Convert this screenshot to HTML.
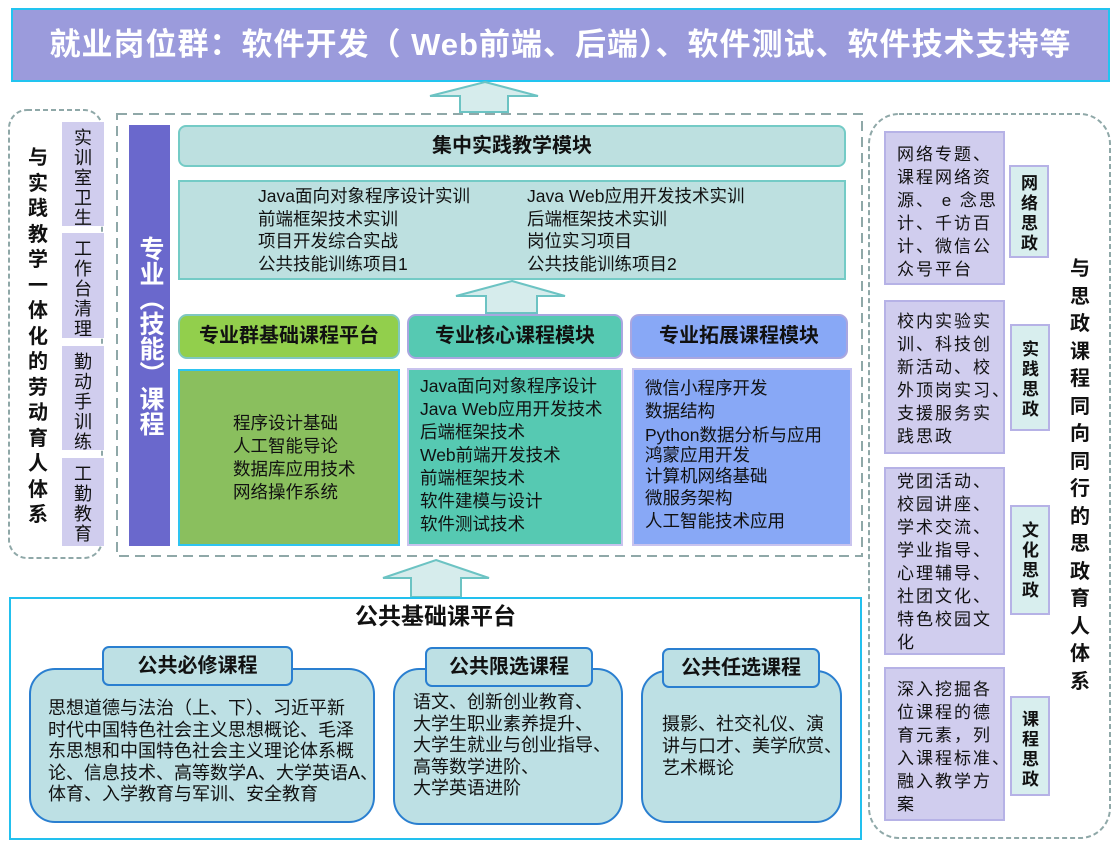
<!DOCTYPE html>
<html><head><meta charset="utf-8"><style>
*{margin:0;padding:0;box-sizing:border-box}
body{width:1119px;height:850px;background:#fff;position:relative;overflow:hidden;font-family:"Liberation Sans","Noto Sans CJK SC",sans-serif;color:#111}
.a{position:absolute}
.v{text-align:center;word-break:break-all;}
.b{font-weight:bold}
.t16{font-size:17.5px;line-height:22.5px;white-space:nowrap}
</style></head><body>
<!-- title -->
<div class="a b" style="left:11px;top:8px;width:1099px;height:74px;background:#9b9bdc;border:2px solid #22c4f0;color:#fff;font-size:31px;line-height:70px;text-align:center;letter-spacing:1px">就业岗位群：软件开发（ Web前端、后端）、软件测试、软件技术支持等</div>

<svg class="a" style="left:0;top:0" width="1119" height="850">
<polygon points="485,82 538,96 508,96 508,112 460,112 460,96 430,96" fill="#d6ecec" stroke="#6cc3c3" stroke-width="2"/>
<polygon points="512,281 565,296 537,296 537,313 486,313 486,296 456,296" fill="#d6ecec" stroke="#6cc3c3" stroke-width="2"/>
<polygon points="436,560 489,578 461,578 461,597 411,597 411,578 383,578" fill="#d6ecec" stroke="#6cc3c3" stroke-width="2"/>
<rect x="9" y="110" width="93" height="448" rx="18" fill="none" stroke="#8fa8a8" stroke-width="2" stroke-dasharray="5,3"/>
<rect x="117" y="114" width="745" height="442" fill="none" stroke="#8fa8a8" stroke-width="2" stroke-dasharray="10,6"/>
<rect x="869" y="114" width="241" height="724" rx="30" fill="none" stroke="#8fa8a8" stroke-width="2" stroke-dasharray="5,3"/>
</svg>

<!-- left -->
<div class="a b v" style="left:27px;top:146px;width:22px;font-size:20px;line-height:25.5px">与实践教学一体化的劳动育人体系</div>
<div class="a v" style="left:62px;top:122px;width:42px;height:104px;background:#d0cdee;font-size:18px;line-height:20px;padding:6px 10px">实训室卫生</div>
<div class="a v" style="left:62px;top:233px;width:42px;height:105px;background:#d0cdee;font-size:18px;line-height:20px;padding:6px 10px">工作台清理</div>
<div class="a v" style="left:62px;top:346px;width:42px;height:104px;background:#d0cdee;font-size:18px;line-height:20px;padding:6px 10px">勤动手训练</div>
<div class="a v" style="left:62px;top:458px;width:42px;height:88px;background:#d0cdee;font-size:18px;line-height:20px;padding:6px 10px">工勤教育</div>

<!-- middle -->
<div class="a" style="left:129px;top:125px;width:41px;height:421px;background:#6a68cc"></div>
<div class="a b" style="left:133px;top:236px;width:34px;height:200px;color:#fff;font-size:25px;line-height:34px;writing-mode:vertical-rl;">专业（技能）课程</div>
<div class="a b" style="left:178px;top:125px;width:668px;height:42px;background:#bde0e0;border:2px solid #74cbc6;border-radius:8px;font-size:20px;line-height:38px;text-align:center">集中实践教学模块</div>
<div class="a" style="left:178px;top:180px;width:668px;height:100px;background:#bde0e0;border:2px solid #74cbc6"></div>
<div class="a t16" style="left:258px;top:185px">Java面向对象程序设计实训<br>前端框架技术实训<br>项目开发综合实战<br>公共技能训练项目1</div>
<div class="a t16" style="left:527px;top:185px">Java Web应用开发技术实训<br>后端框架技术实训<br>岗位实习项目<br>公共技能训练项目2</div>

<div class="a b" style="left:178px;top:314px;width:222px;height:45px;background:#92cf4c;border:2px solid #7fc8c0;border-radius:9px;font-size:20px;line-height:41px;text-align:center">专业群基础课程平台</div>
<div class="a b" style="left:407px;top:314px;width:216px;height:45px;background:#56c9b2;border:2px solid #a9a6e0;border-radius:9px;font-size:20px;line-height:41px;text-align:center">专业核心课程模块</div>
<div class="a b" style="left:630px;top:314px;width:218px;height:45px;background:#88a8f6;border:2px solid #a9a6e0;border-radius:9px;font-size:20px;line-height:41px;text-align:center">专业拓展课程模块</div>

<div class="a" style="left:178px;top:369px;width:222px;height:177px;background:#8abf5e;border:2px solid #2ec4f0"></div>
<div class="a t16" style="left:233px;top:412px;line-height:23px">程序设计基础<br>人工智能导论<br>数据库应用技术<br>网络操作系统</div>
<div class="a" style="left:407px;top:368px;width:216px;height:178px;background:#56c9b2;border:2px solid #c8c3ee"></div>
<div class="a t16" style="left:420px;top:375px;line-height:23px">Java面向对象程序设计<br>Java Web应用开发技术<br>后端框架技术<br>Web前端开发技术<br>前端框架技术<br>软件建模与设计<br>软件测试技术</div>
<div class="a" style="left:632px;top:368px;width:220px;height:178px;background:#88a8f6;border:2px solid #c8c3ee"></div>
<div class="a t16" style="left:645px;top:377px;line-height:22.8px">微信小程序开发<br>数据结构<br><span style="display:block;line-height:20px;margin-top:2px">Python数据分析与应用<br>鸿蒙应用开发</span>计算机网络基础<br>微服务架构<br>人工智能技术应用</div>

<!-- bottom -->
<div class="a" style="left:9px;top:597px;width:853px;height:243px;border:2px solid #22c0ee"></div>
<div class="a b" style="left:9px;top:600px;width:853px;text-align:center;font-size:23px;line-height:32px">公共基础课平台</div>

<div class="a" style="left:29px;top:668px;width:346px;height:155px;background:#bde0e4;border:2px solid #2a7fd0;border-radius:26px"></div>
<div class="a b" style="left:102px;top:646px;width:191px;height:40px;background:#bde0e4;border:2px solid #2a7fd0;border-radius:7px;font-size:20px;line-height:36px;text-align:center">公共必修课程</div>
<div class="a t16" style="left:48px;top:698px;line-height:21.5px;font-size:18px">思想道德与法治（上、下）、习近平新<br>时代中国特色社会主义思想概论、毛泽<br>东思想和中国特色社会主义理论体系概<br>论、信息技术、高等数学A、大学英语A、<br>体育、入学教育与军训、安全教育</div>

<div class="a" style="left:393px;top:668px;width:230px;height:157px;background:#bde0e4;border:2px solid #2a7fd0;border-radius:26px"></div>
<div class="a b" style="left:425px;top:647px;width:168px;height:40px;background:#bde0e4;border:2px solid #2a7fd0;border-radius:7px;font-size:20px;line-height:36px;text-align:center">公共限选课程</div>
<div class="a t16" style="left:413px;top:692px;line-height:21.5px;font-size:18px">语文、创新创业教育、<br>大学生职业素养提升、<br>大学生就业与创业指导、<br>高等数学进阶、<br>大学英语进阶</div>

<div class="a" style="left:641px;top:670px;width:201px;height:153px;background:#bde0e4;border:2px solid #2a7fd0;border-radius:26px"></div>
<div class="a b" style="left:662px;top:648px;width:158px;height:40px;background:#bde0e4;border:2px solid #2a7fd0;border-radius:7px;font-size:20px;line-height:36px;text-align:center">公共任选课程</div>
<div class="a t16" style="left:662px;top:713px;line-height:22px;font-size:18px">摄影、社交礼仪、演<br>讲与口才、美学欣赏、<br>艺术概论</div>

<!-- right -->
<div class="a" style="left:884px;top:131px;width:121px;height:154px;background:#d0cdee;border:2px solid #b6b2e6"></div>
<div class="a t16" style="left:897px;top:143px;line-height:23px;font-size:17px;letter-spacing:2px">网络专题、<br>课程网络资<br>源、 e 念思<br>计、千访百<br>计、微信公<br>众号平台</div>
<div class="a" style="left:884px;top:300px;width:121px;height:154px;background:#d0cdee;border:2px solid #b6b2e6"></div>
<div class="a t16" style="left:897px;top:310px;line-height:23px;font-size:17px;letter-spacing:2px">校内实验实<br>训、科技创<br>新活动、校<br>外顶岗实习、<br>支援服务实<br>践思政</div>
<div class="a" style="left:884px;top:467px;width:121px;height:188px;background:#d0cdee;border:2px solid #b6b2e6"></div>
<div class="a t16" style="left:897px;top:470px;line-height:23px;font-size:17px;letter-spacing:2px">党团活动、<br>校园讲座、<br>学术交流、<br>学业指导、<br>心理辅导、<br>社团文化、<br>特色校园文<br>化</div>
<div class="a" style="left:884px;top:667px;width:121px;height:154px;background:#d0cdee;border:2px solid #b6b2e6"></div>
<div class="a t16" style="left:897px;top:678px;line-height:23px;font-size:17px;letter-spacing:2px">深入挖掘各<br>位课程的德<br>育元素，列<br>入课程标准、<br>融入教学方<br>案</div>

<div class="a b v" style="left:1009px;top:165px;width:40px;height:93px;background:#d8eeee;border:2px solid #b6b2e6;font-size:17px;line-height:20px;padding-top:7px;padding-left:10px;padding-right:10px">网络思政</div>
<div class="a b v" style="left:1010px;top:324px;width:40px;height:107px;background:#d8eeee;border:2px solid #b6b2e6;font-size:17px;line-height:20px;padding-top:14px;padding-left:10px;padding-right:10px">实践思政</div>
<div class="a b v" style="left:1010px;top:505px;width:40px;height:110px;background:#d8eeee;border:2px solid #b6b2e6;font-size:17px;line-height:20px;padding-top:14px;padding-left:10px;padding-right:10px">文化思政</div>
<div class="a b v" style="left:1010px;top:696px;width:40px;height:100px;background:#d8eeee;border:2px solid #b6b2e6;font-size:17px;line-height:20px;padding-top:12px;padding-left:10px;padding-right:10px">课程思政</div>

<div class="a b v" style="left:1069px;top:256px;width:22px;font-size:20px;line-height:27.5px">与思政课程同向同行的思政育人体系</div>
</body></html>
